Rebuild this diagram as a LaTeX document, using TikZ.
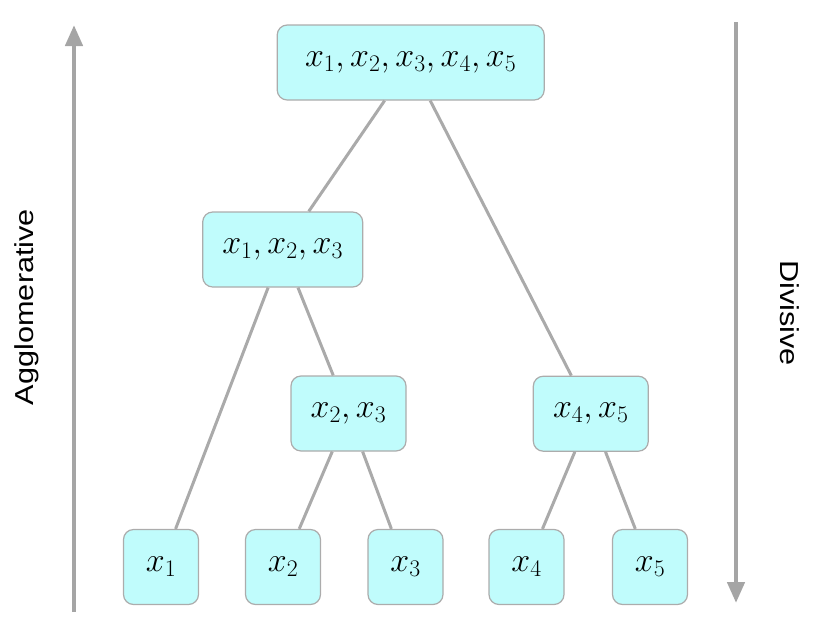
\RequirePackage{fix-cm}
\documentclass[tikz,border=0pt]{standalone}
\usepackage{fontspec}
\usepackage{graphicx}
\newfontfamily\labelfont{Liberation Sans}
\usetikzlibrary{arrows.meta}
\definecolor{boxfill}{RGB}{192,252,252}
\definecolor{boxline}{RGB}{172,172,172}
\definecolor{edgeline}{RGB}{170,170,170}
\definecolor{arrowgray}{RGB}{165,165,165}
\begin{document}
\begin{tikzpicture}[x=1pt,y=-1pt,
  clusterbox/.style={draw=boxline, line width=1.2pt, fill=boxfill, rounded corners=10pt,
    inner sep=0pt, minimum height=75pt, font=\fontsize{34}{40}\selectfont},
  treeedge/.style={draw=edgeline, line width=3pt},
  sidearrow/.style={draw=arrowgray, line width=4.5pt, -{Triangle[length=21pt,width=17pt]}},
  sidelabel/.style={font=\labelfont\fontsize{26}{30}\selectfont, text=black, inner sep=0pt}]
\useasboundingbox (0,0) rectangle (831,633);
% nodes
\node[clusterbox, minimum width=267pt] (all) at (410.7,62.5) {$x_1,x_2,x_3,x_4,x_5$};
\node[clusterbox, minimum width=160pt] (a123) at (282.7,249.5) {$x_1,x_2,x_3$};
\node[clusterbox, minimum width=115pt] (a23) at (348.5,413.5) {$x_2,x_3$};
\node[clusterbox, minimum width=115pt] (a45) at (590.8,413.7) {$x_4,x_5$};
\node[clusterbox, minimum width=75pt] (l1) at (161,567) {$x_1$};
\node[clusterbox, minimum width=75pt] (l2) at (283,567) {$x_2$};
\node[clusterbox, minimum width=75pt] (l3) at (405.5,567) {$x_3$};
\node[clusterbox, minimum width=75pt] (l4) at (526.5,567) {$x_4$};
\node[clusterbox, minimum width=75pt] (l5) at (650,567) {$x_5$};
% edges
\draw[treeedge] (all) -- (a123);
\draw[treeedge] (all) -- (a45);
\draw[treeedge] (a123) -- (l1);
\draw[treeedge] (a123) -- (a23);
\draw[treeedge] (a23) -- (l2);
\draw[treeedge] (a23) -- (l3);
\draw[treeedge] (a45) -- (l4);
\draw[treeedge] (a45) -- (l5);
% side arrows
\coordinate (aggbot) at (74,612);
\coordinate (aggtop) at (74,25);
\coordinate (divtop) at (736,22);
\coordinate (divbot) at (736,603);
\draw[sidearrow] (aggbot) -- (aggtop);
\draw[sidearrow] (divtop) -- (divbot);
\node[sidelabel, rotate=90] (agg) at (27,307) {\scalebox{1.18}[1]{Agglomerative}};
\node[sidelabel, rotate=-90] (div) at (790,313) {\scalebox{1.18}[1]{Divisive}};
\end{tikzpicture}
\end{document}
